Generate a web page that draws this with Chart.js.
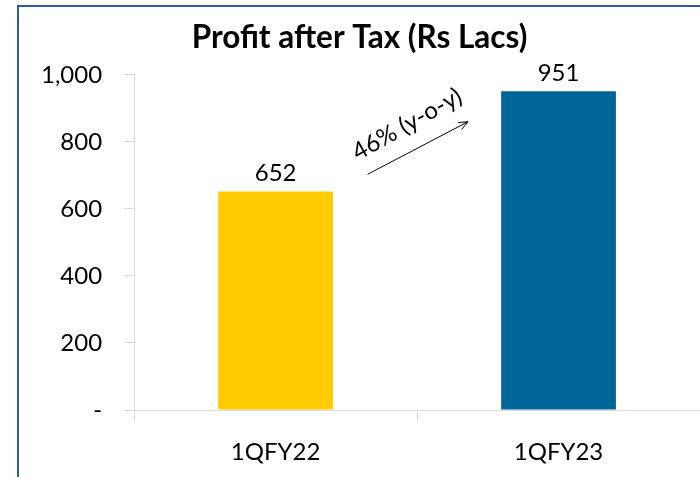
<!DOCTYPE html>
<html>
<head>
<meta charset="utf-8">
<script src="https://cdn.jsdelivr.net/npm/chart.js@4"></script>
<style>
  html, body { margin: 0; padding: 0; background: #fff; }
  .frame {
    position: absolute; left: 17px; top: 5px; width: 683px; height: 472px;
    border-left: 2px solid #2e5a9c; border-top: 2px solid #2e5a9c;
    box-sizing: border-box;
  }
  #chart { display: block; }
</style>
</head>
<body>
<div class="frame"><canvas id="chart" width="681" height="470"></canvas></div>
<script>
const quarters = ['1QFY22', '1QFY23'];
const profit = [652, 951];
const barColors = ['#ffcc00', '#006699'];
const yTicks = [0, 200, 400, 600, 800, 1000];
const growthNote = '46% (y-o-y)';

const fontFamily = "Lato, 'Open Sans', sans-serif";
const fmt = new Intl.NumberFormat('en-US');

const growthArrow = {
  id: 'growthArrow',
  afterDatasetsDraw(chart) {
    const { ctx, scales: { x, y } } = chart;
    const x1 = x.getPixelForValue(0.325), y1 = y.getPixelForValue(703);
    const x2 = x.getPixelForValue(0.68), y2 = y.getPixelForValue(860);
    const ang = Math.atan2(y2 - y1, x2 - x1);
    ctx.save();
    ctx.strokeStyle = '#000';
    ctx.lineWidth = 1;
    ctx.beginPath();
    ctx.moveTo(x1, y1); ctx.lineTo(x2, y2);
    ctx.moveTo(x2, y2); ctx.lineTo(x2 - 10 * Math.cos(ang - 0.4), y2 - 10 * Math.sin(ang - 0.4));
    ctx.moveTo(x2, y2); ctx.lineTo(x2 - 10 * Math.cos(ang + 0.4), y2 - 10 * Math.sin(ang + 0.4));
    ctx.stroke();
    ctx.translate(x.getPixelForValue(0.465), y.getPixelForValue(852));
    ctx.rotate(ang - 0.03);
    ctx.font = '24px ' + fontFamily;
    ctx.fillStyle = '#000';
    ctx.textAlign = 'center';
    ctx.textBaseline = 'middle';
    ctx.fillText(growthNote, 0, 0);
    ctx.restore();
  }
};

const barLabels = {
  id: 'barLabels',
  afterDatasetsDraw(chart) {
    const { ctx } = chart;
    const meta = chart.getDatasetMeta(0);
    ctx.save();
    ctx.font = '24px ' + fontFamily;
    ctx.fillStyle = '#000';
    ctx.textAlign = 'center';
    ctx.textBaseline = 'bottom';
    meta.data.forEach((bar, i) => ctx.fillText(fmt.format(profit[i]), bar.x, bar.y - 6));
    ctx.restore();
  }
};

new Chart(document.getElementById('chart'), {
  type: 'bar',
  data: {
    labels: quarters,
    datasets: [{ data: profit, backgroundColor: barColors, categoryPercentage: 0.8, barPercentage: 0.507 }]
  },
  options: {
    responsive: false,
    animation: false,
    layout: { padding: { left: 0, right: 0, top: 0, bottom: 0 } },
    plugins: {
      legend: { display: false },
      tooltip: { enabled: false },
      title: {
        display: true,
        text: 'Profit after Tax (Rs Lacs)',
        color: '#000',
        font: { family: fontFamily, size: 31.5, weight: 'bold' },
        padding: { top: 12, bottom: 18 }
      }
    },
    scales: {
      x: {
        afterFit(axis) { axis.height = 67; },
        grid: { display: true, drawOnChartArea: false, offset: true, tickLength: 10, color: '#d9d9d9' },
        border: { color: '#d9d9d9' },
        ticks: { color: '#000', font: { family: fontFamily, size: 24 }, padding: 18 }
      },
      y: {
        min: 0, max: 1000,
        afterBuildTicks(axis) { axis.ticks = yTicks.map(v => ({ value: v })); },
        grid: { display: true, drawOnChartArea: false, tickLength: 10, color: '#d9d9d9' },
        border: { color: '#d9d9d9' },
        ticks: {
          color: '#000', font: { family: fontFamily, size: 24 }, padding: 22,
          callback: v => v === 0 ? '-' : fmt.format(v)
        }
      }
    }
  },
  plugins: [growthArrow, barLabels]
});
</script>
</body>
</html>
